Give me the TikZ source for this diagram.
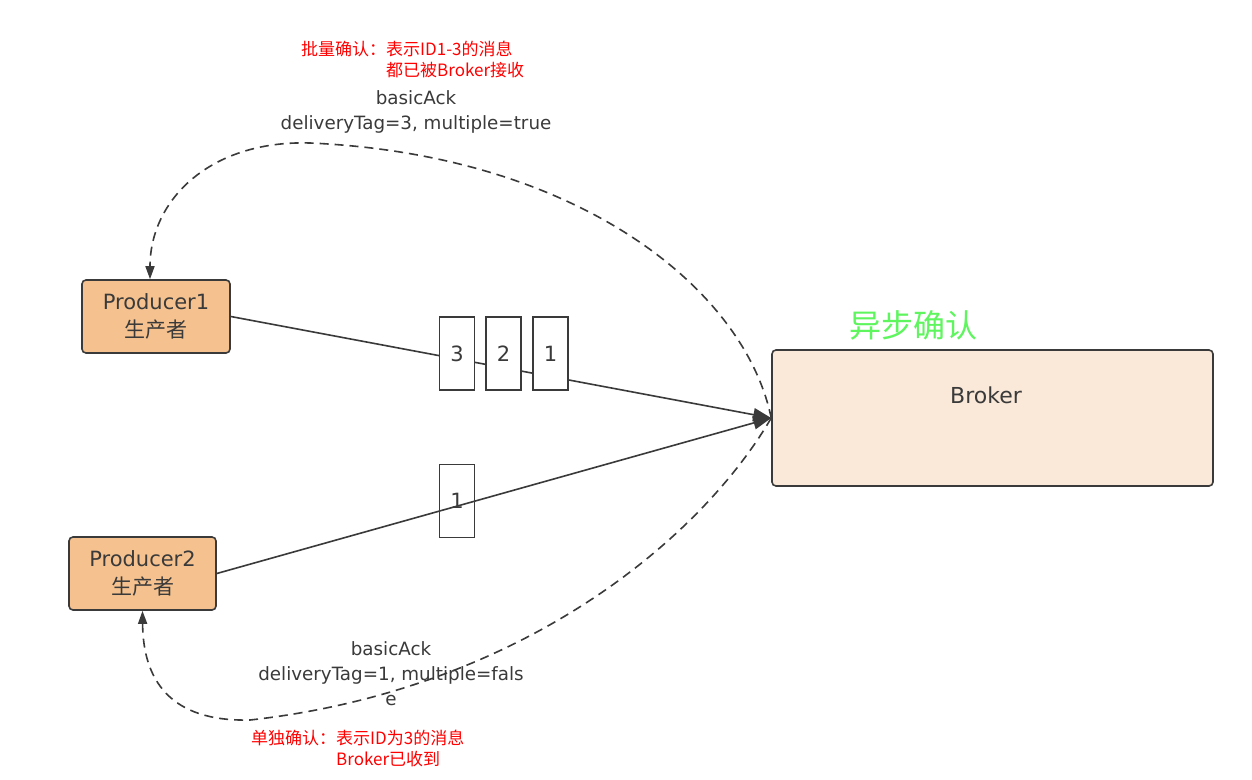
\documentclass[tikz,border=0pt]{standalone}
\usepackage{fontspec}
\setmainfont{Noto Sans CJK SC}
\newfontfamily\lat{DejaVu Sans}
\usetikzlibrary{arrows.meta}
\definecolor{edge}{HTML}{3A3A3A}
\definecolor{prodfill}{HTML}{F5C28F}
\definecolor{brokfill}{HTML}{FAE8D8}
\definecolor{txt}{HTML}{3A3A3A}
\definecolor{greentxt}{HTML}{5EF55E}
\definecolor{redtxt}{HTML}{FF0000}
\tikzset{
  prodbox/.style={draw=edge, line width=1.6pt, fill=prodfill, rounded corners=4pt, align=center, text=txt, inner sep=0pt, font=\fontsize{21}{28}\selectfont},
  brokbox/.style={draw=edge, line width=1.6pt, fill=brokfill, rounded corners=4pt, inner sep=0pt},
  msgbox/.style={draw=edge, line width=1.3pt, minimum width=35pt, minimum height=73pt, inner sep=0pt, text=txt, font=\lat\fontsize{21}{24}\selectfont},
  flow/.style={draw=edge, line width=1.6pt, -{Triangle[length=18pt,width=13pt]}},
  ack/.style={draw=edge, line width=1.6pt, dash pattern=on 9pt off 6pt, -{Triangle[length=13pt,width=9pt]}},
  lbl/.style={text=txt, align=center, font=\lat\fontsize{18.3}{25}\selectfont, inner sep=0pt},
  note/.style={text=redtxt, align=left, font=\fontsize{17}{21}\selectfont, inner sep=0pt},
}
\begin{document}
\begin{tikzpicture}[x=1pt,y=-1pt]
\useasboundingbox[fill=white] (0,0) rectangle (1252,779);

\node[prodbox, minimum width=148pt, minimum height=73pt] (p1) at (156,316.5) {{\lat Producer1}\\生产者};
\node[prodbox, minimum width=147pt, minimum height=73pt] (p2) at (142.5,573.5) {{\lat Producer2}\\生产者};
\node[brokbox, minimum width=441pt, minimum height=136pt] (broker) at (992.5,418) {};
\node[text=txt, font=\lat\fontsize{22}{26}\selectfont, inner sep=0pt] (brokertxt) at (986,395) {Broker};
\node[text=greentxt, font=\fontsize{32}{36}\selectfont, inner sep=0pt] (async) at (913,325) {异步确认};

% flows
\draw[flow] (p1.east) -- (broker.west);
\draw[flow] (p2.east) -- (broker.west);

% messages
\node[msgbox, fill=white] (m3) at (457,353.5) {3};
\node[msgbox, fill=white] (m2) at (503.5,353.5) {2};
\node[msgbox, fill=white] (m1) at (550.5,353.5) {1};
\node[msgbox] (n1) at (457,501) {1};

% acks
\draw[ack] (broker.west) .. controls (745,290) and (580,155) .. (310,143)
  .. controls (210,140) and (150,200) .. ([xshift=-6pt]p1.north);
\draw[ack] (broker.west) .. controls (700,540) and (520,690) .. (250,720)
  .. controls (170,722) and (143,680) .. (p2.south);

% labels
\node[lbl] (ack1) at (416,112) {basicAck\\deliveryTag=3, multiple=true};
\node[lbl] (ack2) at (391,674) {basicAck\\deliveryTag=1, multiple=fals\\e};
\node[note, anchor=north west] (note1) at (301,41) {批量确认：表示ID1-3的消息\\\phantom{批量确认：}都已被Broker接收};
\node[note, anchor=north west] (note2) at (251,730) {单独确认：表示ID为3的消息\\\phantom{单独确认：}Broker已收到};
\end{tikzpicture}
\end{document}
